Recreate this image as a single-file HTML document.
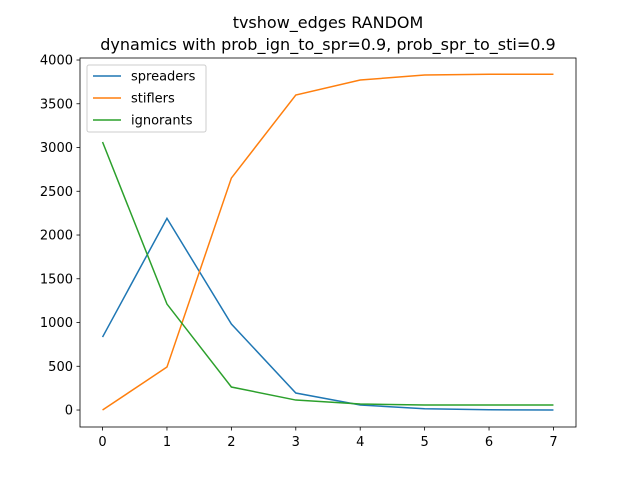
<!DOCTYPE html>
<html><head><meta charset="utf-8"><style>
body{margin:0;background:#fff;}
svg text{font-family:"DejaVu Sans","Liberation Sans",sans-serif;}
</style></head><body>
<svg id="chart" width="640" height="480" xmlns="http://www.w3.org/2000/svg">
<rect width="640" height="480" fill="#fff"/>
<text x="328" y="28" text-anchor="middle" font-size="16">tvshow_edges RANDOM</text>
<text x="328" y="50" text-anchor="middle" font-size="16">dynamics with prob_ign_to_spr=0.9, prob_spr_to_sti=0.9</text>
<g id="plot"></g>
</svg>
<script>
const xs=[0,1,2,3,4,5,6,7];
const spreaders=[834,2190,983,194,57,15,3,0];
const stiflers=[0,491,2651,3600,3771,3829,3838,3838];
const ignorants=[3063,1211,263,114,69,57,57,57];
const xTicks=[0,1,2,3,4,5,6,7];
const yTicks=[0,500,1000,1500,2000,2500,3000,3500,4000];
const L=80,R=576,T=58,B=427;
const xMin=-0.35,xMax=7.35,yMin=-194,yMax=4023;
const X=v=>L+(v-xMin)/(xMax-xMin)*(R-L);
const Y=v=>B-(v-yMin)/(yMax-yMin)*(B-T);
const ns="http://www.w3.org/2000/svg",g=document.getElementById('plot');
function mk(t,a){const e=document.createElementNS(ns,t);for(const k in a)e.setAttribute(k,a[k]);g.appendChild(e);return e;}
const series=[["spreaders",spreaders,"#1f77b4"],["stiflers",stiflers,"#ff7f0e"],["ignorants",ignorants,"#2ca02c"]];
series.forEach(s=>{
 const p=mk('polyline',{points:xs.map((x,i)=>X(x)+','+Y(s[1][i])).join(' '),fill:'none',stroke:s[2],'stroke-width':1.5});
 
 
});
const fr=mk('rect',{x:L,y:T,width:R-L,height:B-T,fill:'none',stroke:'#000','stroke-width':0.8});


xTicks.forEach(t=>{
 mk('line',{x1:X(t),x2:X(t),y1:B,y2:B+3.5,stroke:'#000','stroke-width':0.8});
 const e=mk('text',{x:X(t),y:B+19,'text-anchor':'middle','font-size':13});e.textContent=t;
 
 
});
yTicks.forEach(t=>{
 mk('line',{x1:L-3.5,x2:L,y1:Y(t),y2:Y(t),stroke:'#000','stroke-width':0.8});
 const e=mk('text',{x:L-7,y:Y(t)+4.5,'text-anchor':'end','font-size':13});e.textContent=t;
 
 
});
const lg=mk('rect',{x:87,y:65,width:119,height:67,rx:2,fill:'#fff','fill-opacity':0.8,stroke:'#ccc','stroke-width':1});


series.forEach((s,i)=>{
 const y=76+i*22;
 mk('line',{x1:93,x2:121,y1:y,y2:y,stroke:s[2],'stroke-width':1.5});
 const e=mk('text',{x:131,y:y+4.5,'font-size':13});e.textContent=s[0];
 
 
});
</script>
</body></html>
